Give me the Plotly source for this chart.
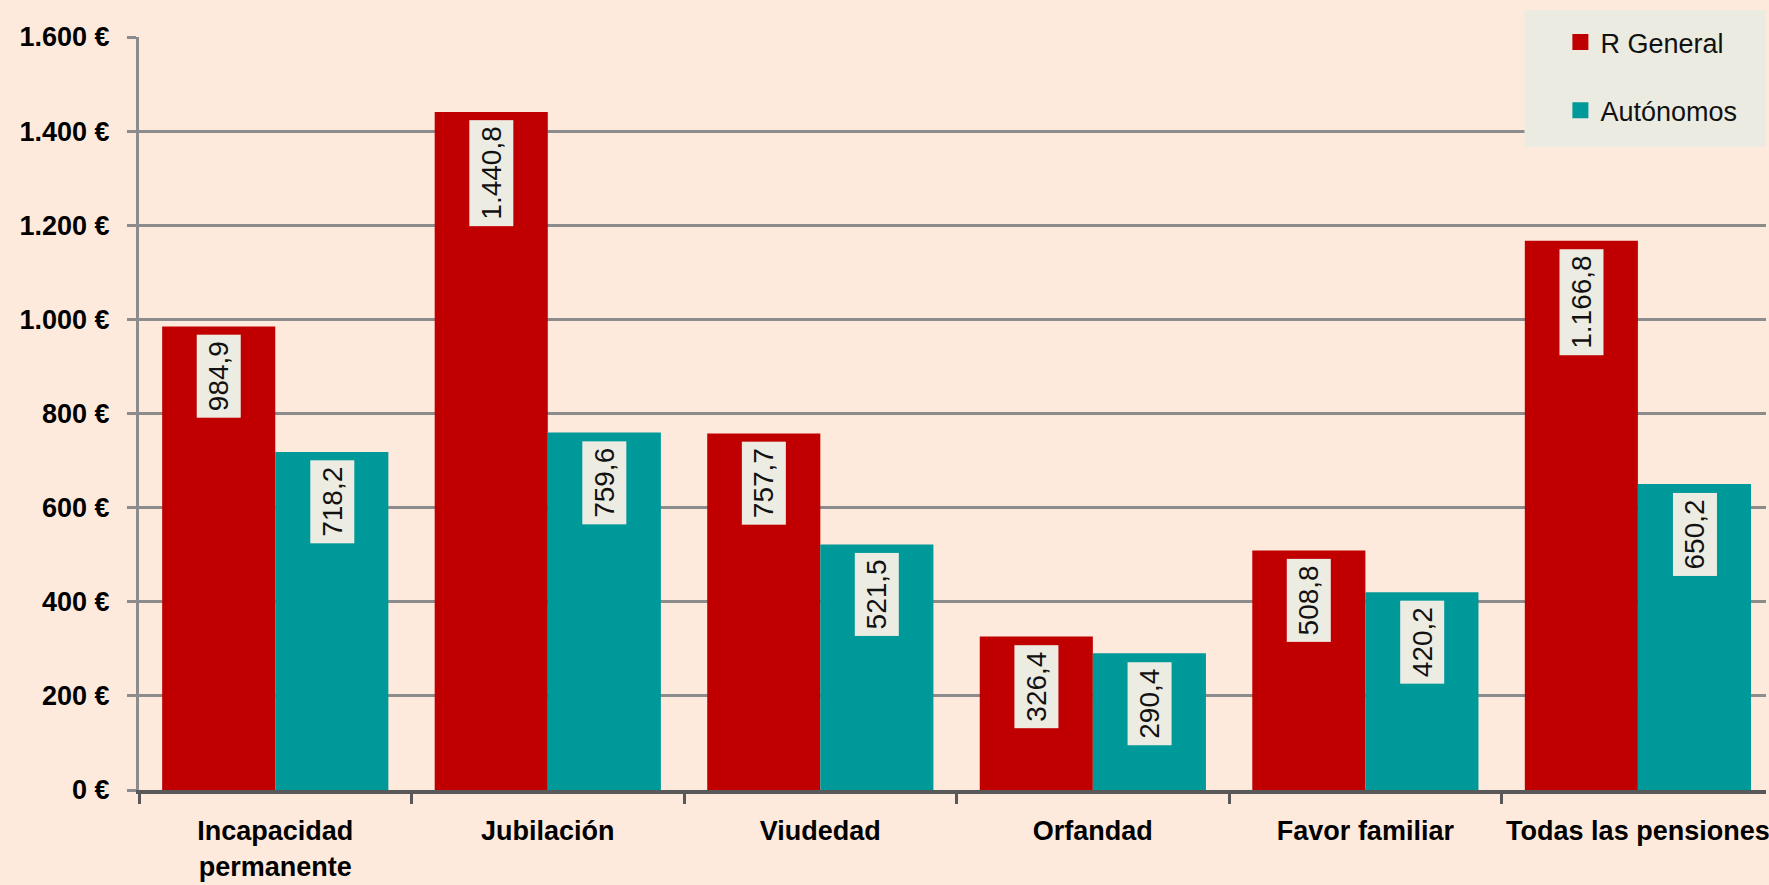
import plotly.graph_objects as go

categories = ["Incapacidad<br>permanente", "Jubilación", "Viudedad", "Orfandad", "Favor familiar", "Todas las pensiones"]
r_general = [984.9, 1440.8, 757.7, 326.4, 508.8, 1166.8]
autonomos = [718.2, 759.6, 521.5, 290.4, 420.2, 650.2]
series_names = ["R General", "Autónomos"]
y_tickvals = [0, 200, 400, 600, 800, 1000, 1200, 1400, 1600]
y_ticktext = ["0 €", "200 €", "400 €", "600 €", "800 €", "1.000 €", "1.200 €", "1.400 €", "1.600 €"]

RED = "#C00000"
TEAL = "#009999"
BG = "#FDEADC"
BOXBG = "#EDECE2"
LEGBG = "#ECEBE1"
BARGAP = 0.17
FONT = "Liberation Sans, Arial"

W, H = 1769, 885
ML, MT, MB = 139, 37, 95
PW, PH = W - ML, H - MT - MB

def fmt(v):
    s = f"{v:,.1f}"
    return s.replace(",", "X").replace(".", ",").replace("X", ".")

def px_x(p):
    return (p - ML) / PW

def px_y(p):
    return (H - MB - p) / PH

fig = go.Figure()
for name, vals, col, grp in ((series_names[0], r_general, RED, "a"),
                             (series_names[1], autonomos, TEAL, "b")):
    fig.add_trace(go.Bar(name=name, x=categories, y=vals, marker_color=col,
                         marker_line_width=0, showlegend=False, legendgroup=grp))
    fig.add_trace(go.Scatter(name=name, x=[None], y=[None], mode="markers",
                             marker=dict(symbol="square", size=18, color=col),
                             showlegend=True, legendgroup=grp))

half = (1 - BARGAP) / 4
for i in range(len(categories)):
    for vals, off in ((r_general, -half), (autonomos, half)):
        fig.add_annotation(x=i + off, y=vals[i], xref="x", yref="y",
                           text=fmt(vals[i]), textangle=-90, showarrow=False,
                           xanchor="center", yanchor="top", yshift=-8,
                           bgcolor=BOXBG, borderpad=6,
                           font=dict(family=FONT, size=28, color="#111111"))

# legend background panel
fig.add_shape(type="rect", xref="paper", yref="paper",
              x0=px_x(1527), x1=1.0, y0=px_y(147), y1=px_y(10),
              fillcolor=LEGBG, line_width=0, layer="above")

fig.update_layout(
    width=W, height=H,
    paper_bgcolor=BG, plot_bgcolor=BG,
    margin=dict(l=ML, r=0, t=MT, b=MB),
    barmode="group", bargap=BARGAP, bargroupgap=0,
    font=dict(family=FONT, color="#000000"),
    showlegend=True,
    legend=dict(x=px_x(1563), xanchor="left", y=px_y(18), yanchor="top",
                bgcolor="rgba(0,0,0,0)", font=dict(size=27, color="#111111"),
                tracegroupgap=30, traceorder="grouped",
                itemsizing="trace", itemwidth=30),
)

fig.update_xaxes(
    type="category",
    range=[-0.5, 5.47],
    tickfont=dict(size=27, family=FONT, weight="bold", color="#000000"),
    ticks="outside", tickson="boundaries", ticklen=10, tickwidth=3, tickcolor="#595959",
    showline=True, linecolor="#595959", linewidth=4,
    showgrid=False, zeroline=False, ticklabelstandoff=14,
)
fig.update_yaxes(
    range=[0, 1600], tickvals=y_tickvals, ticktext=y_ticktext,
    tickfont=dict(size=27, family=FONT, weight="bold", color="#000000"),
    ticks="outside", ticklen=9, tickwidth=3, tickcolor="#8C8C8C",
    showline=True, linecolor="#8C8C8C", linewidth=3,
    showgrid=True, gridcolor="#8C8C8C", gridwidth=3,
    zeroline=False, ticklabelstandoff=12,
)

fig.write_html("out.html", config={"displayModeBar": False},
               post_script="document.body.style.margin='0';document.body.style.background='#FDEADC';document.body.style.overflow='hidden';")
